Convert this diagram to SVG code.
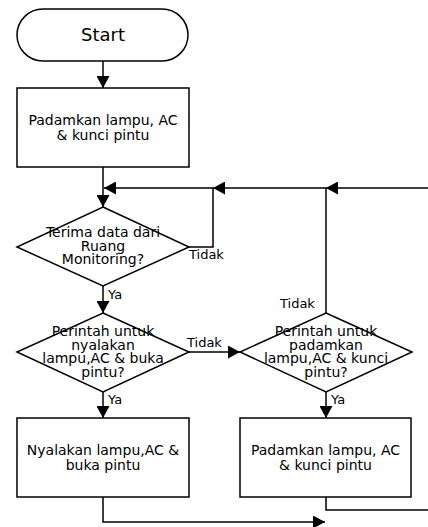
<svg xmlns="http://www.w3.org/2000/svg" width="428" height="527" viewBox="0 0 428 527">
<style>
.shape{fill:#fff;stroke:#000;stroke-width:1.5}
.conn{fill:none;stroke:#000;stroke-width:1.5}
.t{font-family:"DejaVu Sans",Verdana,sans-serif;font-size:14px;fill:#000;text-anchor:middle}
.lbl{font-family:"DejaVu Sans",Verdana,sans-serif;font-size:13px;fill:#000}
</style>
<defs>
<marker id="ah" markerUnits="userSpaceOnUse" markerWidth="13" markerHeight="13" refX="12" refY="6.5" orient="auto">
<path d="M0,0 L12,6.5 L0,13 z" fill="#000"/>
</marker>
</defs>
<g id="connectors">
<path class="conn" d="M103,61 V88" marker-end="url(#ah)"/>
<path class="conn" d="M103,167 V207" marker-end="url(#ah)"/>
<path class="conn" d="M189,247 H213 V188 H104" marker-end="url(#ah)"/>
<path class="conn" d="M103,286 V313" marker-end="url(#ah)"/>
<path class="conn" d="M189,352 H240" marker-end="url(#ah)"/>
<path class="conn" d="M326,313 V188 H213" marker-end="url(#ah)"/>
<path class="conn" d="M430,188 H326" marker-end="url(#ah)"/>
<path class="conn" d="M103,392 V418" marker-end="url(#ah)"/>
<path class="conn" d="M326,392 V418" marker-end="url(#ah)"/>
<path class="conn" d="M103,497 V522 H325" marker-end="url(#ah)"/>
<path class="conn" d="M326,497 V510 H430"/>
<text class="lbl" x="189" y="259">Tidak</text>
<text class="lbl" x="108" y="299">Ya</text>
<text class="lbl" x="187" y="347">Tidak</text>
<text class="lbl" x="280" y="308">Tidak</text>
<text class="lbl" x="108" y="404">Ya</text>
<text class="lbl" x="331" y="404">Ya</text>
</g>
<g id="start">
<rect class="shape" x="17" y="9" width="171" height="52" rx="26" ry="26"/>
<text class="t" x="103" y="41" style="font-size:18px">Start</text>
</g>
<g id="box1">
<rect class="shape" x="17" y="88" width="172" height="79"/>
<text class="t" x="103" y="124.5">Padamkan lampu, AC</text>
<text class="t" x="103" y="139.5">&amp; kunci pintu</text>
</g>
<g id="decision1">
<polygon class="shape" points="103,207 189,247 103,286 17,247"/>
<text class="t" x="103" y="237">Terima data dari</text>
<text class="t" x="103" y="250.5">Ruang</text>
<text class="t" x="103" y="264">Monitoring?</text>
</g>
<g id="decision2">
<polygon class="shape" points="103,313 189,352 103,392 17,352"/>
<text class="t" x="103" y="336">Perintah untuk</text>
<text class="t" x="103" y="349.5">nyalakan</text>
<text class="t" x="103" y="363">lampu,AC &amp; buka</text>
<text class="t" x="103" y="376.5">pintu?</text>
</g>
<g id="decision3">
<polygon class="shape" points="326,313 412,352 326,392 240,352"/>
<text class="t" x="326" y="336">Perintah untuk</text>
<text class="t" x="326" y="349.5">padamkan</text>
<text class="t" x="326" y="363">lampu,AC &amp; kunci</text>
<text class="t" x="326" y="376.5">pintu?</text>
</g>
<g id="box3">
<rect class="shape" x="17" y="418" width="172" height="79"/>
<text class="t" x="103" y="454.5">Nyalakan lampu,AC &amp;</text>
<text class="t" x="103" y="469.5">buka pintu</text>
</g>
<g id="box4">
<rect class="shape" x="240" y="418" width="171" height="79"/>
<text class="t" x="325.5" y="454.5">Padamkan lampu, AC</text>
<text class="t" x="325.5" y="469.5">&amp; kunci pintu</text>
</g>
</svg>
